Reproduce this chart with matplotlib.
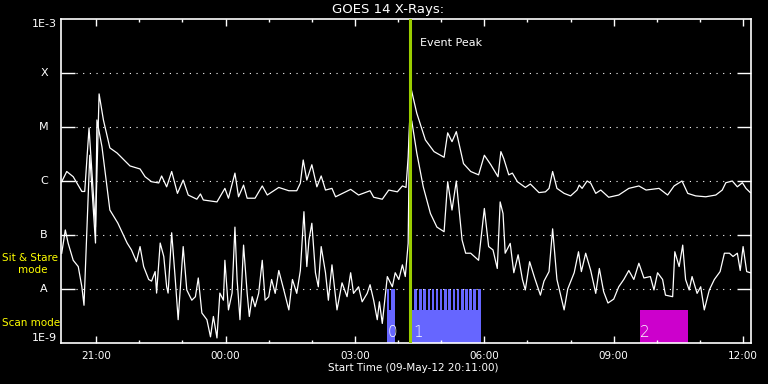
import matplotlib
matplotlib.use("Agg")
import matplotlib.pyplot as plt
import matplotlib.dates as mdates
import pandas as pd

start = pd.Timestamp("2012-05-09 20:11:00")
end = pd.Timestamp("2012-05-10 12:11:00")
event_peak = pd.Timestamp("2012-05-10 04:17:00")

# GOES 14 long channel (1-8 A), minutes after start / W m^-2
long_min = [1, 8, 17, 29, 33, 39, 48, 53, 59, 68, 78, 96, 110, 117, 126, 136, 140, 147, 154, 162,
            170, 177, 189, 194, 198, 217, 228, 233, 242, 247, 254, 259, 270, 280, 287, 303, 317, 328,
            333, 337, 342, 349, 356, 362, 368, 377, 382, 403, 414, 430, 435, 447, 456, 468, 475, 480,
            483, 485, 487, 495, 507, 519, 533, 538, 544, 550, 560, 570, 581, 589, 598, 608, 612, 616,
            623, 628, 635, 646, 653, 665, 674, 679, 684, 690, 700, 709, 718, 721, 725, 732, 737, 744,
            751, 762, 776, 790, 804, 814, 832, 844, 853, 864, 872, 883, 897, 911, 920, 925, 934, 941,
            948, 953, 959]
long_flux = [9.7e-7, 1.5e-6, 1.2e-6, 6.4e-7, 6.4e-7, 9.6e-6, 1.4e-7, 4.1e-5, 1.35e-5, 4.1e-6,
             3.3e-6, 1.9e-6, 1.67e-6, 1.2e-6, 9.7e-7, 9.2e-7, 1.24e-6, 7.8e-7, 1.5e-6, 5.9e-7,
             1.04e-6, 5.5e-7, 4.6e-7, 5.75e-7, 4.45e-7, 4.1e-7, 7.3e-7, 4.8e-7, 1.4e-6, 5.1e-7,
             8.4e-7, 4.8e-7, 4.8e-7, 8.1e-7, 5.5e-7, 7.6e-7, 6.6e-7, 6.6e-7, 9.1e-7, 2.45e-6,
             1.04e-6, 2.0e-6, 7.8e-7, 1.24e-6, 6.8e-7, 7.3e-7, 5.1e-7, 7.0e-7, 5.5e-7, 6.6e-7,
             5.0e-7, 4.6e-7, 6.8e-7, 6.3e-7, 8.1e-7, 7.6e-7, 2.8e-6, 1.2e-5, 5.2e-5, 1.8e-5,
             5.75e-6, 3.5e-6, 2.75e-6, 7.8e-6, 5.35e-6, 8.2e-6, 2.1e-6, 1.5e-6, 1.3e-6, 3.0e-6,
             2.0e-6, 1.2e-6, 3.5e-6, 2.6e-6, 1.3e-6, 1.4e-6, 9.7e-7, 7.6e-7, 8.8e-7, 6.1e-7,
             6.3e-7, 7.3e-7, 1.5e-6, 7.3e-7, 5.9e-7, 5.3e-7, 6.8e-7, 8.4e-7, 7.3e-7, 1.0e-6,
             9.1e-7, 5.9e-7, 6.8e-7, 5.0e-7, 5.5e-7, 7.3e-7, 8.1e-7, 6.8e-7, 7.3e-7, 5.5e-7,
             8.1e-7, 1.0e-6, 5.9e-7, 5.3e-7, 5.1e-7, 5.5e-7, 6.8e-7, 9.3e-7, 1.0e-6, 7.8e-7,
             9.3e-7, 7.3e-7, 6.1e-7]

# short channel (0.5-4 A)
short_min = [1, 6, 10, 17, 24, 29, 32, 40, 48, 50, 57, 68, 79, 92, 98, 105, 110, 115, 122, 126,
             131, 133, 138, 143, 147, 149, 154, 159, 163, 170, 175, 182, 187, 191, 196, 203, 208,
             212, 217, 221, 226, 228, 233, 238, 242, 245, 249, 254, 259, 262, 266, 270, 275, 280,
             284, 289, 293, 298, 303, 310, 317, 322, 328, 333, 338, 342, 345, 349, 354, 358, 362,
             368, 372, 377, 384, 391, 398, 403, 407, 414, 419, 426, 430, 435, 440, 443, 447, 454,
             461, 465, 470, 475, 479, 483, 485, 488, 495, 504, 514, 523, 533, 538, 544, 550, 558,
             563, 570, 581, 589, 595, 601, 607, 611, 615, 618, 625, 630, 636, 642, 646, 652, 659,
             667, 672, 679, 684, 690, 700, 705, 714, 720, 724, 730, 737, 744, 749, 755, 761, 769,
             776, 783, 790, 797, 804, 811, 820, 825, 830, 837, 841, 851, 854, 860, 865, 869, 874,
             878, 885, 890, 895, 902, 909, 917, 923, 930, 935, 941, 945, 949, 954, 959]
short_flux = [4.6e-8, 1.24e-7, 7.0e-8, 3.4e-8, 2.6e-8, 1.1e-8, 5.0e-9, 3.0e-6, 7.1e-8, 1.35e-5,
              4.3e-6, 2.9e-7, 1.67e-7, 7.1e-8, 5.3e-8, 3.2e-8, 6.1e-8, 2.6e-8, 1.5e-8, 1.4e-8,
              2.1e-8, 8.4e-9, 7.1e-8, 4.0e-8, 1.1e-8, 8.4e-9, 1.1e-7, 1.5e-8, 2.7e-9, 6.1e-8,
              9.6e-9, 6.2e-9, 7.2e-9, 1.6e-8, 3.6e-9, 2.7e-9, 1.3e-9, 3.1e-9, 1.24e-9, 8.4e-9,
              6.2e-9, 3.4e-8, 4.1e-9, 8.4e-9, 1.4e-7, 1.5e-8, 2.7e-9, 6.5e-8, 8.3e-9, 3.1e-9,
              7.2e-9, 4.7e-9, 8.3e-9, 3.4e-8, 6.2e-9, 7.2e-9, 1.5e-8, 8.3e-9, 2.2e-8, 9.6e-9,
              4.1e-9, 1.5e-8, 8.3e-9, 2.2e-8, 2.7e-7, 2.6e-8, 8.1e-8, 1.65e-7, 2.0e-8, 1.1e-8,
              6.1e-8, 2.0e-8, 6.2e-9, 2.8e-8, 4.1e-9, 1.3e-8, 7.2e-9, 2.0e-8, 8.3e-9, 1.1e-8,
              5.8e-9, 8.3e-9, 1.2e-8, 6.2e-9, 2.7e-9, 5.8e-9, 2.3e-9, 1.7e-8, 1.1e-8, 2.0e-8,
              1.5e-8, 2.8e-8, 1.7e-8, 7.0e-8, 1.2e-5, 1.3e-5, 3.3e-6, 7.8e-7, 2.5e-7, 1.4e-7,
              1.15e-7, 9.7e-7, 2.9e-7, 1.0e-6, 8.1e-8, 4.6e-8, 4.6e-8, 3.4e-8, 3.1e-7, 6.1e-8,
              5.3e-8, 2.4e-8, 4.1e-7, 2.5e-7, 4.6e-8, 7.0e-8, 2.0e-8, 4.3e-8, 1.5e-8, 9.6e-9,
              3.2e-8, 1.6e-8, 7.7e-9, 1.4e-8, 2.1e-8, 1.3e-7, 1.5e-8, 4.1e-9, 1.0e-8, 2.0e-8,
              4.9e-8, 2.1e-8, 4.6e-8, 2.2e-8, 8.3e-9, 2.4e-8, 8.9e-9, 5.5e-9, 6.5e-9, 1.1e-8,
              1.5e-8, 2.2e-8, 1.5e-8, 3.0e-8, 1.6e-8, 1.7e-8, 9.6e-9, 2.0e-8, 1.5e-8, 7.7e-9,
              7.2e-9, 4.9e-8, 2.6e-8, 6.5e-8, 1.5e-8, 9.6e-9, 1.7e-8, 8.3e-9, 1.1e-8, 4.1e-9,
              9.6e-9, 1.5e-8, 2.1e-8, 4.6e-8, 4.6e-8, 4.0e-8, 4.6e-8, 2.2e-8, 6.1e-8, 2.1e-8,
              2.0e-8]

# observing blocks (minutes after start)
scan_blocks = [(453, 464), (488, 584)]
scan_labels = ["0", "1"]
sit_stare = [(453, 457), (459.5, 464),
             (491.3, 494.8), (498.3, 501.8), (503.9, 507.4), (510.0, 513.5), (515.6, 519.1),
             (521.6, 525.1), (527.2, 530.7), (533.2, 536.7), (538.8, 542.3), (544.9, 548.4),
             (550.5, 554.0), (556.5, 560.0), (562.1, 565.6), (568.1, 571.6), (573.7, 577.2),
             (579.9, 584.0)]
other_blocks = [(805, 873)]
other_labels = ["2"]

class_levels = [1e-8, 1e-7, 1e-6, 1e-5, 1e-4]
class_names = ["A", "B", "C", "M", "X"]

ymin, ymax = 1e-9, 1e-3
scan_top = 4e-9
stare_top = 1e-8


def t(m):
    return start + pd.Timedelta(minutes=m)


fig = plt.figure(figsize=(7.68, 3.84), dpi=100, facecolor="black")
ax = fig.add_axes([61 / 768, 41 / 384, 690 / 768, 324 / 384], facecolor="black")
ax.set_yscale("log")
ax.set_ylim(ymin, ymax)
ax.set_xlim(start, end)

# mode bars
for (a, b), lab in zip(scan_blocks, scan_labels):
    ax.fill_between([t(a), t(b)], ymin, scan_top, color="#6666ff", lw=0, zorder=1,
                    antialiased=False)
    ax.text(t(a + 1.5), 1.15e-9, lab, color="white", fontsize=11, ha="left", va="bottom",
            zorder=3, fontweight="light")
for a, b in sit_stare:
    ax.fill_between([t(a), t(b)], ymin, stare_top, color="#6666ff", lw=0, zorder=1,
                    antialiased=False)
for (a, b), lab in zip(other_blocks, other_labels):
    ax.fill_between([t(a), t(b)], ymin, scan_top, color="#cc00cc", lw=0, zorder=1,
                    antialiased=False)
    ax.text(t(a + 1), 1.15e-9, lab, color="white", fontsize=11, ha="left", va="bottom",
            zorder=3, fontweight="light")

# class level dotted lines
for lev in class_levels:
    ax.axhline(lev, xmin=15 / 690, xmax=1 - 15 / 690, color="white", lw=0.8,
               ls=(0, (1, 5)), zorder=1)

ax.plot([t(m) for m in long_min], long_flux, color="white", lw=0.9, zorder=2)
ax.plot([t(m) for m in short_min], short_flux, color="white", lw=0.9, zorder=2)

ax.axvline(event_peak, color="#9acd00", lw=2.2, zorder=4)
ax.text(event_peak + pd.Timedelta(minutes=13), 10 ** -3.45, "Event Peak", color="white",
        fontsize=8, ha="left", va="center")

# axes styling
for s in ax.spines.values():
    s.set_color("white")
    s.set_linewidth(1.2)
ax.xaxis.set_major_locator(mdates.HourLocator(byhour=[0, 3, 6, 9, 12, 15, 18, 21]))
ax.xaxis.set_minor_locator(mdates.HourLocator())
ax.xaxis.set_major_formatter(mdates.DateFormatter("%H:%M"))
ax.tick_params(axis="x", which="major", direction="in", length=5, width=1, colors="white",
               top=True, labelsize=7.5, pad=6)
ax.tick_params(axis="x", which="minor", direction="in", length=2.5, width=1, colors="white",
               top=True)
ax.set_yticks(class_levels)
ax.yaxis.set_minor_locator(matplotlib.ticker.NullLocator())
ax.tick_params(axis="y", which="major", direction="in", length=10, width=1, colors="white",
               right=True, labelleft=False)

ytr = ax.get_yaxis_transform()
for lev, name in zip(class_levels, class_names):
    ax.text(-0.0246, lev, name, transform=ytr, color="white", fontsize=8, ha="center", va="center")
ax.text(-0.006, ymax, "1E-3", transform=ytr, color="white", fontsize=8, ha="right", va="top")
ax.text(-0.006, ymin, "1E-9", transform=ytr, color="white", fontsize=8, ha="right", va="bottom")

fig.text(388 / 768, 1 - 9.5 / 384, "GOES 14 X-Rays:", color="white", fontsize=9.5,
         ha="center", va="center")
fig.text(413 / 768, 1 - 368 / 384, "Start Time (09-May-12 20:11:00)", color="white",
         fontsize=7.5, ha="center", va="center")

fig.text(2 / 768, 1 - 258 / 384, "Sit & Stare", color="yellow", fontsize=7.5, ha="left",
         va="center", zorder=5)
fig.text(33 / 768, 1 - 270 / 384, "mode", color="yellow", fontsize=7.5, ha="center",
         va="center", zorder=5)
fig.text(2 / 768, 1 - 323 / 384, "Scan mode", color="yellow", fontsize=7.5, ha="left",
         va="center", zorder=5)

fig.savefig("out.png", dpi=100, facecolor="black")
